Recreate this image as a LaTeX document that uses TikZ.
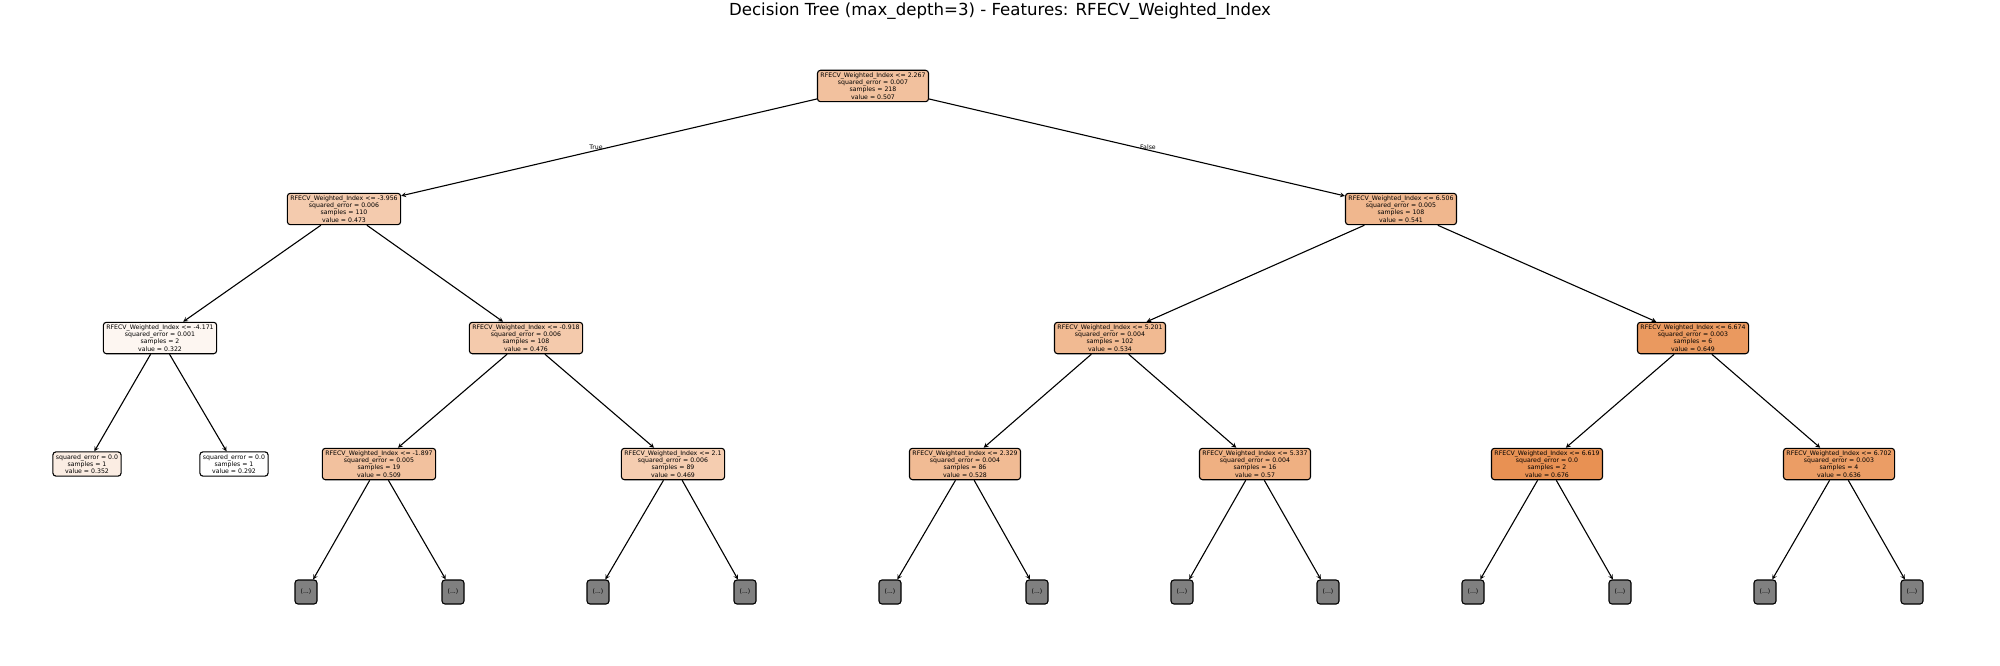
\documentclass[tikz,border=0pt]{standalone}
\usepackage{fontspec}
\setmainfont{DejaVu Sans}
\usetikzlibrary{arrows}
\definecolor{treeorange}{RGB}{229,129,57}
\definecolor{treegray}{RGB}{128,128,128}
\tikzstyle{arrow} = [line width=1.1pt,->,>=stealth]
\tikzstyle{split} = [draw=black,line width=1.1pt,rounded corners=3pt,align=center,
  inner xsep=3pt,inner ysep=2.5pt,font=\fontsize{6.2}{7.2}\selectfont]
\tikzstyle{cut} = [draw=black,fill=treegray,line width=1.1pt,rounded corners=3pt,
  minimum width=22pt,minimum height=24pt,inner sep=0pt,font=\fontsize{6.2}{7.2}\selectfont]
\def \feat{RFECV\_Weighted\_Index}

\begin{document}
\begin{tikzpicture}[x=1pt,y=-1pt]
		\useasboundingbox (0,0) rectangle (2000,666);

		% title
		\node [font=\fontsize{16.6}{19}\selectfont] (title) at (1000,11) {Decision Tree (max\_depth=3) - Features: \feat};

		% define rows
		\def \ya {86}
		\def \yb {209}
		\def \yc {338}
		\def \yd {464}
		\def \ye {592}

		% Draw the splits
		\node [split,fill=treeorange!49!white] (root) at (873,\ya) {\feat{} <= 2.267\\squared\_error = 0.007\\samples = 218\\value = 0.507};

		\node [split,fill=treeorange!41!white] (l) at (344,\yb) {\feat{} <= -3.956\\squared\_error = 0.006\\samples = 110\\value = 0.473};
		\node [split,fill=treeorange!57!white] (r) at (1401,\yb) {\feat{} <= 6.506\\squared\_error = 0.005\\samples = 108\\value = 0.541};

		\node [split,fill=treeorange!7!white] (ll) at (160,\yc) {\feat{} <= -4.171\\squared\_error = 0.001\\samples = 2\\value = 0.322};
		\node [split,fill=treeorange!42!white] (lr) at (526,\yc) {\feat{} <= -0.918\\squared\_error = 0.006\\samples = 108\\value = 0.476};
		\node [split,fill=treeorange!55!white] (rl) at (1110,\yc) {\feat{} <= 5.201\\squared\_error = 0.004\\samples = 102\\value = 0.534};
		\node [split,fill=treeorange!81!white] (rr) at (1693,\yc) {\feat{} <= 6.674\\squared\_error = 0.003\\samples = 6\\value = 0.649};

		\node [split,fill=treeorange!14!white] (lll) at (87,\yd) {squared\_error = 0.0\\samples = 1\\value = 0.352};
		\node [split,fill=white] (llr) at (234,\yd) {squared\_error = 0.0\\samples = 1\\value = 0.292};
		\node [split,fill=treeorange!49!white] (lrl) at (379,\yd) {\feat{} <= -1.897\\squared\_error = 0.005\\samples = 19\\value = 0.509};
		\node [split,fill=treeorange!40!white] (lrr) at (673,\yd) {\feat{} <= 2.1\\squared\_error = 0.006\\samples = 89\\value = 0.469};
		\node [split,fill=treeorange!54!white] (rll) at (965,\yd) {\feat{} <= 2.329\\squared\_error = 0.004\\samples = 86\\value = 0.528};
		\node [split,fill=treeorange!63!white] (rlr) at (1255,\yd) {\feat{} <= 5.337\\squared\_error = 0.004\\samples = 16\\value = 0.57};
		\node [split,fill=treeorange!87!white] (rrl) at (1547,\yd) {\feat{} <= 6.619\\squared\_error = 0.0\\samples = 2\\value = 0.676};
		\node [split,fill=treeorange!78!white] (rrr) at (1839,\yd) {\feat{} <= 6.702\\squared\_error = 0.003\\samples = 4\\value = 0.636};

		% truncated branches
		\foreach \n/\x in {1/306,2/453,3/598,4/745,5/890,6/1037,7/1182,8/1328,9/1473,10/1620,11/1765,12/1912}
			\node [cut] (d\n) at (\x,\ye) {(...)};

		% Draw the edges
		\draw [arrow] (root) -- (l);
		\draw [arrow] (root) -- (r);
		\node [font=\fontsize{6.2}{7.2}\selectfont] (true) at (596,147) {True};
		\node [font=\fontsize{6.2}{7.2}\selectfont] (false) at (1148,147) {False};
		\foreach \a/\b in {l/ll,l/lr,r/rl,r/rr,ll/lll,ll/llr,lr/lrl,lr/lrr,rl/rll,rl/rlr,rr/rrl,rr/rrr,
			lrl/d1,lrl/d2,lrr/d3,lrr/d4,rll/d5,rll/d6,rlr/d7,rlr/d8,rrl/d9,rrl/d10,rrr/d11,rrr/d12}
			\draw [arrow] (\a) -- (\b);
\end{tikzpicture}
\end{document}
